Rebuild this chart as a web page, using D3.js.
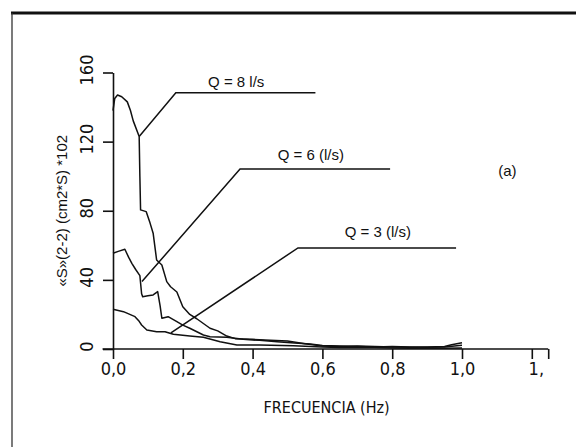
<!DOCTYPE html>
<html><head><meta charset="utf-8">
<script src="https://cdn.jsdelivr.net/npm/d3@7"></script>
<style>html,body{margin:0;padding:0;background:#fff;} svg{display:block}</style>
</head><body>
<svg id="chart" width="576" height="447"></svg>
<script>
// ---- data ----
const q8Freq = [0.0,0.005,0.013,0.025,0.041,0.05,0.058,0.075,0.077,0.079,0.095,0.106,0.115,0.125,0.14,0.154,0.165,0.183,0.2,0.22,0.24,0.278,0.3,0.326,0.35,0.4,0.45,0.5,0.55,0.6,0.65,0.7,0.75,0.8,0.85,0.9,0.95,0.97,1.0];
const q8Val  = [138,145,147,146,143,138,132,123,100,80.5,79.5,73,67,51.5,48.6,39,36,33,24.5,20,17.5,12,10.5,7.5,6,5.6,5,4.6,3,1.7,1.5,1.8,1.5,1.2,1.0,1.2,1.5,2.5,3.6];
const q6Freq = [0,0.015,0.034,0.045,0.054,0.065,0.077,0.082,0.085,0.1,0.115,0.128,0.135,0.14,0.158,0.183,0.2,0.22,0.259,0.278,0.326,0.373,0.42,0.47,0.52,0.565,0.6,0.65,0.7,0.75,0.8,0.85,0.9,0.95,1.0];
const q6Val  = [55.4,56.5,57.7,53,49.6,46,42.5,32,30.3,30.8,31.3,33.2,25,17.8,18.7,15.8,13.8,12,8.1,7.1,6.8,5.6,5,4.2,3.5,2.9,2,1.8,1.5,1.2,1.4,1.2,1.0,1.2,2.2];
const q3Freq = [0,0.03,0.063,0.075,0.082,0.097,0.125,0.149,0.173,0.22,0.259,0.307,0.355,0.42,0.517,0.6,0.65,0.7,0.75,0.8,0.85,0.9,0.95,1.0];
const q3Val  = [23,21.6,18.7,16,13.9,11,10,10,8.5,7.5,6.8,4.2,2.3,2.3,1.9,1.2,0.8,1.0,0.8,0.6,0.5,0.4,0.5,0.6];

const seriesNames  = ["Q = 8 l/s", "Q = 6 (l/s)", "Q = 3 (l/s)"];
const labelAnchorX = [0.075, 0.083, 0.166];
const labelAnchorY = [123, 39, 9.3];
const labelElbowX  = [0.18, 0.364, 0.53];
const labelElbowY  = [148.3, 104.2, 58.5];
const labelEndX    = [0.58, 0.794, 0.983];
const labelTextX   = [0.353, 0.567, 0.759];
const labelTextY   = [151.7, 109.5, 64.9];

const xTicks = [0, 0.2, 0.4, 0.6, 0.8, 1.0, 1.2];
const xAxisEnd = 1.247;
const yTicks = [0, 40, 80, 120, 160];
const xTitle = "FRECUENCIA (Hz)";
const yTitle = "«S»(2-2) (cm2*S) *102";
const panelTag = "(a)";
const panelTagX = 1.13, panelTagY = 100;

// ---- drawing ----
const svg = d3.select("#chart");
const x = d3.scaleLinear().domain([0, 1]).range([113, 462]);
const y = d3.scaleLinear().domain([0, 160]).range([349, 72.5]);
const ink = "#111";
const narrow = "'Liberation Sans Narrow','DejaVu Sans Condensed','Liberation Sans',sans-serif";
const regular = "'Liberation Sans','DejaVu Sans',sans-serif";

// frame
svg.append("line").attr("x1", 11).attr("x2", 576).attr("y1", 13).attr("y2", 13)
  .attr("stroke", ink).attr("stroke-width", 3);
svg.append("line").attr("x1", 12).attr("x2", 12).attr("y1", 13).attr("y2", 447)
  .attr("stroke", "#333").attr("stroke-width", 1.3);

// y axis
const gy = svg.append("g").attr("transform", `translate(${x(0)},0)`)
  .call(d3.axisLeft(y).tickValues(yTicks).tickSize(10).tickSizeOuter(0).tickFormat(""));
gy.select(".domain").attr("stroke", ink).attr("stroke-width", 1.6);
gy.selectAll(".tick line").attr("stroke", ink).attr("stroke-width", 1.6);
gy.selectAll(".tick").append("text")
  .attr("transform", "translate(-20,-3) rotate(-90)")
  .attr("text-anchor", "middle").attr("fill", ink)
  .style("font-family", narrow).style("font-size", "18px")
  .text(d => d);

// x axis
const fmt = d3.format(".1f");
const gx = svg.append("g").attr("transform", `translate(0,${y(0)})`)
  .call(d3.axisBottom(x).tickValues(xTicks.concat([xAxisEnd])).tickSize(10).tickSizeOuter(0)
    .tickFormat(d => d === xAxisEnd ? "" : (d === 1.2 ? "1," : fmt(d).replace(".", ","))));
gx.select(".domain").remove();
gx.append("line").attr("x1", x(-0.03)).attr("x2", x(xAxisEnd)).attr("y1", 0).attr("y2", 0)
  .attr("stroke", ink).attr("stroke-width", 1.6);
gx.selectAll(".tick line").attr("stroke", ink).attr("stroke-width", 1.6);
gx.selectAll(".tick text").attr("fill", ink)
  .style("font-family", narrow).style("font-size", "18px")
  .attr("dx", d => d === 1.2 ? "4px" : 0);

// titles
svg.append("text").attr("x", (x(0) + x(xAxisEnd)) / 2 - 4).attr("y", 413)
  .attr("text-anchor", "middle").attr("fill", ink)
  .style("font-family", narrow).style("font-size", "16px").text(xTitle);
svg.append("text").attr("transform", `translate(67,${(y(0)+y(160))/2}) rotate(-90)`)
  .attr("text-anchor", "middle").attr("fill", ink)
  .style("font-family", regular).style("font-size", "15px").text(yTitle);

// curves
const line = d3.line().x(d => x(d[0])).y(d => y(d[1])).curve(d3.curveLinear);
[[q8Freq, q8Val], [q6Freq, q6Val], [q3Freq, q3Val]].forEach(([fx, fv]) => {
  svg.append("path").datum(fx.map((f, i) => [f, fv[i]]))
    .attr("d", line).attr("fill", "none").attr("stroke", ink)
    .attr("stroke-width", 1.5).attr("stroke-linejoin", "round");
});

// leader labels
seriesNames.forEach((name, i) => {
  svg.append("path")
    .datum([[labelAnchorX[i], labelAnchorY[i]], [labelElbowX[i], labelElbowY[i]], [labelEndX[i], labelElbowY[i]]])
    .attr("d", line).attr("fill", "none").attr("stroke", ink).attr("stroke-width", 1.5);
  svg.append("text").attr("x", x(labelTextX[i])).attr("y", y(labelTextY[i]))
    .attr("text-anchor", "middle").attr("fill", ink)
    .style("font-family", regular).style("font-size", "15px").text(name);
});

svg.append("text").attr("x", x(panelTagX)).attr("y", y(panelTagY))
  .attr("text-anchor", "middle").attr("fill", ink)
  .style("font-family", regular).style("font-size", "15px").text(panelTag);
</script>
</body></html>
